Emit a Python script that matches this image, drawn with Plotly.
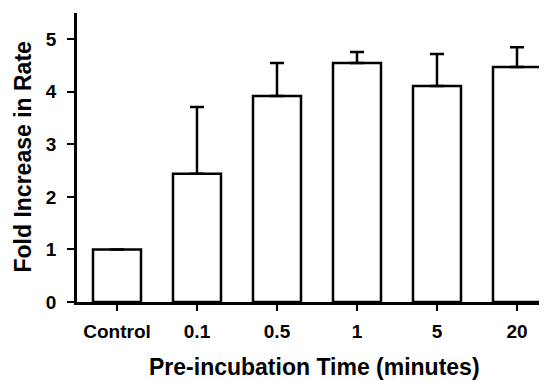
import plotly.graph_objects as go

categories = ["Control", "0.1", "0.5", "1", "5", "20"]
fold_increase = [1.0, 2.44, 3.92, 4.55, 4.11, 4.47]
error_upper = [0.0, 1.27, 0.63, 0.21, 0.61, 0.38]
y_ticks = [0, 1, 2, 3, 4, 5]

FONT = "Liberation Sans, Arial, sans-serif"

# The page body has an 8px default margin, so the figure is sized to fit in
# the 547x381 window and its margins are offset by 8px.
fig = go.Figure(
    go.Bar(
        x=categories,
        y=fold_increase,
        width=0.6,
        marker=dict(color="white", line=dict(color="black", width=2.5)),
        error_y=dict(
            type="data",
            symmetric=False,
            array=error_upper,
            arrayminus=[0] * len(error_upper),
            color="black",
            thickness=2.5,
            width=7,
        ),
    )
)

fig.update_layout(
    width=539,
    height=373,
    margin=dict(l=69, r=0, t=5, b=79),
    paper_bgcolor="white",
    plot_bgcolor="white",
    showlegend=False,
    font=dict(family=FONT, color="black"),
    xaxis=dict(
        type="category",
        range=[-0.5, 5.375],
        automargin=False,
        showline=True,
        linecolor="black",
        linewidth=2.5,
        ticks="outside",
        ticklen=6,
        tickwidth=2,
        tickcolor="black",
        showgrid=False,
        tickfont=dict(family=FONT, size=19, color="black", weight="bold"),
        ticklabelstandoff=4,
    ),
    yaxis=dict(
        range=[0, 5.5],
        tickvals=y_ticks,
        automargin=False,
        showline=True,
        linecolor="black",
        linewidth=2.5,
        ticks="outside",
        ticklen=7,
        tickwidth=2,
        tickcolor="black",
        showgrid=False,
        zeroline=False,
        tickfont=dict(family=FONT, size=19, color="black", weight="bold"),
        ticklabelstandoff=7,
    ),
    annotations=[
        dict(
            text="<b>Pre-incubation Time (minutes)</b>",
            xref="paper", yref="paper",
            x=0.506, y=-0.226,
            xanchor="center", yanchor="middle",
            showarrow=False,
            font=dict(family=FONT, size=23, color="black"),
        ),
        dict(
            text="<b>Fold Increase in Rate</b>",
            xref="paper", yref="paper",
            x=-0.117, y=0.5,
            xanchor="center", yanchor="middle",
            textangle=-90,
            showarrow=False,
            font=dict(family=FONT, size=23, color="black"),
        ),
    ],
)

fig.write_html("out.html")
